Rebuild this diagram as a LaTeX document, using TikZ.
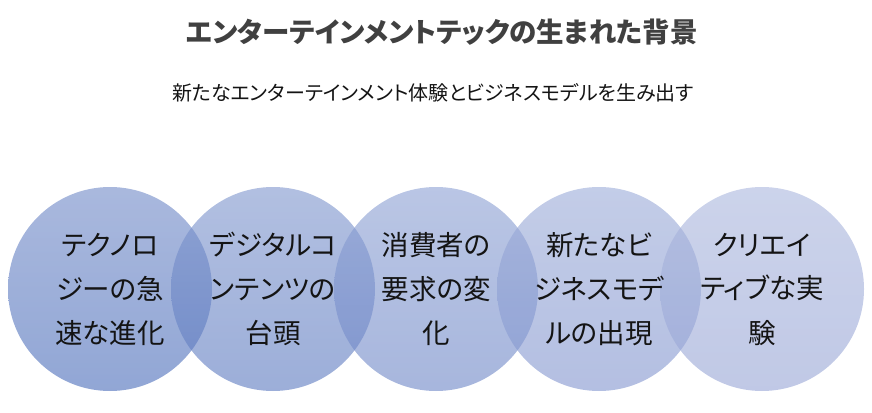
\documentclass[tikz,border=0pt]{standalone}
\usepackage{fontspec}
\setmainfont{Noto Sans CJK JP}[RawFeature=+palt]
\definecolor{titlegray}{RGB}{64,64,64}
\definecolor{txt}{RGB}{20,20,20}
\definecolor{cAt}{RGB}{112,137,199}\definecolor{cAb}{RGB}{72,107,185}
\definecolor{cBt}{RGB}{126,149,205}\definecolor{cBb}{RGB}{90,120,191}
\definecolor{cCt}{RGB}{140,160,211}\definecolor{cCb}{RGB}{108,133,198}
\definecolor{cDt}{RGB}{155,171,216}\definecolor{cDb}{RGB}{129,148,206}
\definecolor{cEt}{RGB}{170,182,221}\definecolor{cEb}{RGB}{150,164,213}
\tikzset{
  circ/.style={circle, minimum size=204pt, inner sep=0pt, fill opacity=0.6, text opacity=1},
  ctext/.style={align=center, text=txt, font=\fontsize{27.5}{44}\selectfont},
  ttl/.style={text=titlegray, font=\bfseries\fontsize{27.5}{30}\selectfont},
  sub/.style={text=txt, font=\fontsize{20}{24}\selectfont}
}
\begin{document}
\begin{tikzpicture}[x=1pt,y=-1pt]
\useasboundingbox (0,0) rectangle (872,412);
\node[ttl] (title) at (442,32) {エンターテインメントテックの生まれた背景};
\node[sub] (subtitle) at (433,93) {新たなエンターテインメント体験とビジネスモデルを生み出す};
\node[circ, top color=cAt, bottom color=cAb] (c1) at (110,289) {};
\node[circ, top color=cBt, bottom color=cBb] (c2) at (273,289) {};
\node[circ, top color=cCt, bottom color=cCb] (c3) at (436,289) {};
\node[circ, top color=cDt, bottom color=cDb] (c4) at (599,289) {};
\node[circ, top color=cEt, bottom color=cEb] (c5) at (762,289) {};
\node[ctext] (t1) at (c1.center) {テクノロ\\ジーの急\\速な進化};
\node[ctext] (t2) at (c2.center) {デジタルコ\\ンテンツの\\台頭};
\node[ctext] (t3) at (c3.center) {消費者の\\要求の変\\化};
\node[ctext] (t4) at (c4.center) {新たなビ\\ジネスモデ\\ルの出現};
\node[ctext] (t5) at (c5.center) {クリエイ\\ティブな実\\験};
\end{tikzpicture}
\end{document}
